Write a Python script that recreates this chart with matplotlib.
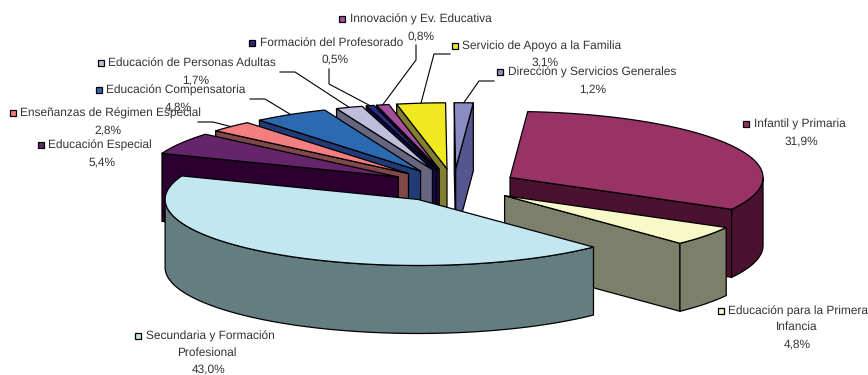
import matplotlib
matplotlib.use("Agg")
import matplotlib.pyplot as plt
from matplotlib.patches import Polygon, Rectangle
import numpy as np

plt.rcParams['font.family'] = ['Liberation Sans', 'DejaVu Sans']
plt.rcParams['text.hinting'] = 'no_hinting'
plt.rcParams['text.hinting_factor'] = 8

# clockwise from the top of the pie
labels = ["Infantil y Primaria", "Educación para la Primera\nInfancia",
          "Secundaria y Formación\nProfesional", "Educación Especial",
          "Enseñanzas de Régimen Especial", "Educación Compensatoria",
          "Educación de Personas Adultas", "Formación del Profesorado",
          "Innovación y Ev. Educativa", "Servicio de Apoyo a la Familia",
          "Dirección y Servicios Generales"]
values = [31.9, 4.8, 43.0, 5.4, 2.8, 4.8, 1.7, 0.5, 0.8, 3.1, 1.2]
top_colors = ["#993366", "#F8F8C8", "#C2E7F0", "#66246B", "#F47E80", "#2B69B0",
              "#BEBEDC", "#2A2A80", "#A64D9C", "#F0E920", "#8C8CC4"]
wall_colors = ["#4A1230", "#7C806A", "#647D80", "#2B0030", "#804848", "#1F3C78",
               "#666680", "#100840", "#2E0C40", "#808030", "#55558F"]

# pie geometry, in pixels
cx, cy = 453.6, 185.5
rx, ry = 253, 66
depth = 68
explode = 0.254
first_angle = 4

# back to front
draw_order = [10, 9, 8, 7, 6, 5, 4, 3, 0, 1, 2]

# left x and y of the legend key, centre x and y of the wrapped line and percentage
key_pos = [(746, 124), (721, 311), (138, 336), (41, 145), (13, 113), (99, 90),
           (101, 63), (252, 43), (342, 19), (455, 46), (500, 72)]
wrap_pos = {1: (797, 327), 2: (207, 353)}
pct_pos = [(801, 141), (797, 344), (209, 369), (102, 162), (108, 130), (178, 107),
           (196, 80), (335, 59), (421, 36), (545, 62), (593, 89)]

# leader lines, ending on the rim of the slice
leaders = {4: [(198, 122), (213, 122)], 5: [(250, 99), (265, 99)],
           6: [(280, 72), (295, 72)], 7: [(329, 69), (329, 84)],
           8: [(416, 45), (416, 60)], 9: [(450, 54), (434, 54)],
           10: [(494, 81), (479, 81)]}

shares = np.array(values) / sum(values) * 360
ends = first_angle + np.cumsum(shares)
starts = ends - shares


def apex(i):
    mid = np.radians((starts[i] + ends[i]) / 2)
    return cx + explode * rx * np.sin(mid), cy - explode * ry * np.cos(mid)


def rim(i, deg):
    ax0, ay0 = apex(i)
    a = np.radians(deg)
    return ax0 + rx * np.sin(a), ay0 - ry * np.cos(a)


def draw_slice(ax, i):
    a0, a1 = starts[i], ends[i]
    style = dict(edgecolor="black", linewidth=0.9, joinstyle="round")
    apex_pt = np.array(apex(i))

    # cut faces that look toward the viewer
    for deg, visible in ((a0, np.sin(np.radians(a0)) < 0), (a1, np.sin(np.radians(a1)) > 0)):
        if visible:
            p = np.array(rim(i, deg))
            face = [apex_pt, p, p + [0, depth], apex_pt + [0, depth]]
            ax.add_patch(Polygon(face, facecolor=wall_colors[i], **style))

    # outer wall, front half of the ellipse only
    lo, hi = max(a0, 90), min(a1, 270)
    if lo < hi:
        t = np.linspace(lo, hi, 80)
        x, y = rim(i, t)
        wall = np.vstack([np.c_[x, y], np.c_[x, y + depth][::-1]])
        ax.add_patch(Polygon(wall, facecolor=wall_colors[i], **style))

    # top face
    t = np.linspace(a0, a1, 120)
    x, y = rim(i, t)
    top = np.vstack([apex_pt, np.c_[x, y]])
    ax.add_patch(Polygon(top, facecolor=top_colors[i], **style))


fig = plt.figure(figsize=(8.68, 3.75), dpi=100)
ax = fig.add_axes([0, 0, 1, 1])
ax.set_xlim(0, 868)
ax.set_ylim(375, 0)
ax.axis("off")

for i in draw_order:
    draw_slice(ax, i)

for i, pts in leaders.items():
    end = rim(i, (starts[i] + ends[i]) / 2)
    xs = [p[0] for p in pts] + [end[0]]
    ys = [p[1] for p in pts] + [end[1]]
    ax.plot(xs, ys, color="black", lw=0.8)

text_style = dict(fontsize=8.6, color="#333333", va="center")
for i, label in enumerate(labels):
    kx, ky = key_pos[i]
    ax.add_patch(Rectangle((kx - 3, ky - 3), 6, 6, facecolor=top_colors[i],
                           edgecolor="black", linewidth=0.9, zorder=5))
    lines = label.split("\n")
    ax.text(kx + 7.5, ky, lines[0], ha="left", zorder=6, **text_style)
    if len(lines) > 1:
        ax.text(wrap_pos[i][0], wrap_pos[i][1], lines[1], ha="center", zorder=6, **text_style)
    pct = f"{values[i]:.1f}%".replace(".", ",")
    ax.text(pct_pos[i][0], pct_pos[i][1], pct, ha="center", zorder=6, **text_style)

fig.savefig("out.png", dpi=100)
